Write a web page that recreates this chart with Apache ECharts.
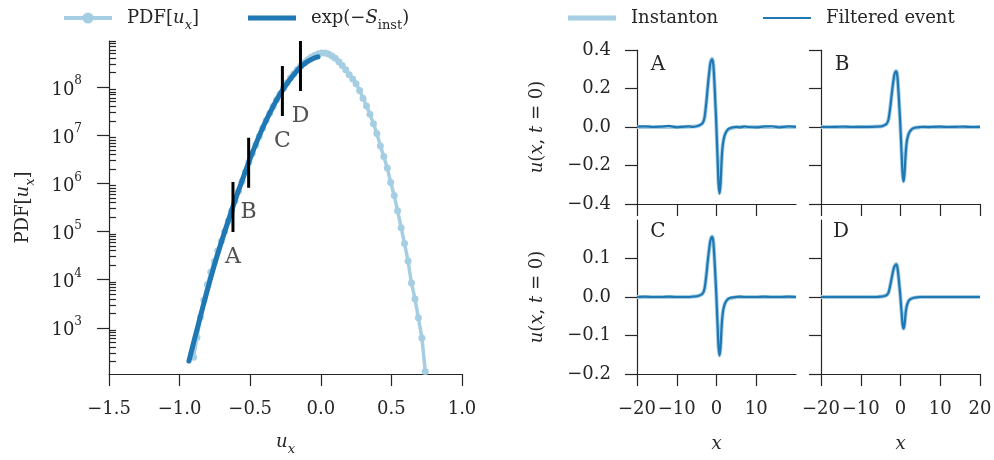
<!DOCTYPE html>
<html><head><meta charset="utf-8">
<script src="https://cdn.jsdelivr.net/npm/echarts@6/dist/echarts.min.js"></script>
<style>html,body{margin:0;padding:0;background:#fff}#c{width:994px;height:460px}</style>
</head><body><div id="c"></div>
<script>
// ---------- Left panel: PDF of u_x (values are log10 of PDF) ----------
const pdfU = [-0.901,-0.877,-0.852,-0.828,-0.803,-0.779,-0.754,-0.730,-0.705,-0.681,-0.656,-0.632,-0.607,-0.583,-0.558,-0.534,-0.509,-0.485,-0.460,-0.436,-0.411,-0.387,-0.362,-0.338,-0.313,-0.289,-0.264,-0.240,-0.215,-0.191,-0.166,-0.142,-0.117,-0.093,-0.068,-0.044,-0.019,0.005,0.030,0.054,0.079,0.103,0.128,0.152,0.177,0.201,0.226,0.250,0.275,0.299,0.324,0.348,0.373,0.397,0.422,0.446,0.471,0.495,0.520,0.544,0.569,0.593,0.618,0.642,0.667,0.691,0.716,0.740];
const pdfLog10 = [2.39,2.80,3.22,3.58,3.90,4.16,4.38,4.60,4.80,5.00,5.22,5.43,5.64,5.84,6.04,6.24,6.44,6.62,6.80,6.98,7.15,7.31,7.46,7.60,7.74,7.86,7.98,8.09,8.19,8.28,8.37,8.44,8.51,8.57,8.62,8.66,8.69,8.71,8.71,8.69,8.65,8.60,8.53,8.45,8.36,8.26,8.17,8.07,7.93,7.77,7.61,7.44,7.24,7.04,6.78,6.56,6.32,6.02,5.75,5.43,5.08,4.75,4.39,3.93,3.60,3.21,2.79,2.09];
const expU = [-0.934,-0.90,-0.85,-0.80,-0.75,-0.70,-0.65,-0.60,-0.55,-0.50,-0.45,-0.40,-0.35,-0.30,-0.25,-0.20,-0.15,-0.10,-0.05,-0.02];
const expLog10 = [2.31,2.70,3.27,3.82,4.34,4.82,5.27,5.71,6.12,6.52,6.89,7.23,7.53,7.80,8.03,8.23,8.40,8.52,8.60,8.63];
const markerU = [-0.622,-0.511,-0.272,-0.144];
const markerLog10 = [5.51,6.43,7.92,8.44];
const markerNames = ['A','B','C','D'];
const yMajorExp = [3,4,5,6,7,8];
const xTicksLeft = [-1.5,-1.0,-0.5,0.0,0.5,1.0];

// ---------- Right panels: u(x, t=0) ----------
const waveX = [-20,-18,-16,-14,-12,-10,-8,-7,-6,-5,-4.3,-3.5,-3,-2.5,-2.2,-1.8,-1.5,-1.1,-0.8,-0.5,-0.3,-0.1,0.1,0.3,0.5,0.75,1.0,1.25,1.5,1.75,2.2,3,4,5,6,7,8,10,12,14,16,18,20];
const instA = [0,0,0,0,0,0,0,0.001,0.002,0.004,0.008,0.02,0.05,0.14,0.21,0.29,0.335,0.355,0.325,0.22,0.13,0.04,-0.07,-0.18,-0.29,-0.345,-0.30,-0.19,-0.11,-0.07,-0.035,-0.012,-0.004,-0.001,0,0,0,0,0,0,0,0,0];
const filtA = [0.002,0.003,0.0,0.002,0.006,-0.002,0.002,0.003,0.001,0.004,0.009,0.02,0.05,0.14,0.21,0.29,0.335,0.352,0.325,0.22,0.13,0.04,-0.07,-0.18,-0.29,-0.345,-0.30,-0.19,-0.11,-0.07,-0.035,-0.010,-0.002,0.001,-0.002,0.003,0.0,-0.002,0.003,0.004,-0.002,0.003,0.001];
const instB = [0,0,0,0,0,0,0,0.001,0.002,0.003,0.007,0.016,0.041,0.115,0.172,0.238,0.275,0.291,0.267,0.18,0.107,0.033,-0.057,-0.148,-0.238,-0.283,-0.246,-0.156,-0.09,-0.057,-0.029,-0.01,-0.003,-0.001,0,0,0,0,0,0,0,0,0];
const filtB = [0.001,0,0.001,0.002,0,0.001,0.001,0.001,0.002,0.003,0.007,0.016,0.041,0.115,0.172,0.238,0.275,0.289,0.267,0.18,0.107,0.033,-0.057,-0.148,-0.238,-0.283,-0.246,-0.156,-0.09,-0.057,-0.029,-0.009,-0.002,0.0,0.001,-0.001,0.001,0.002,0,0.001,0.002,0,0.001];
const instC = [0,0,0,0,0,0,0,0,0.001,0.002,0.004,0.009,0.022,0.062,0.093,0.128,0.148,0.157,0.144,0.097,0.057,0.018,-0.031,-0.08,-0.128,-0.152,-0.133,-0.084,-0.049,-0.031,-0.015,-0.005,-0.002,0,0,0,0,0,0,0,0,0,0];
const filtC = [0,0.001,0,0,0.001,0,0,0,0.001,0.002,0.004,0.009,0.022,0.062,0.093,0.128,0.148,0.156,0.144,0.097,0.057,0.018,-0.031,-0.08,-0.128,-0.152,-0.133,-0.084,-0.049,-0.031,-0.015,-0.004,-0.001,0,0.001,0,0,0,0.001,0,0,0.001,0];
const instD = [0,0,0,0,0,0,0,0,0,0.001,0.002,0.005,0.012,0.034,0.05,0.07,0.08,0.0855,0.078,0.053,0.031,0.01,-0.017,-0.043,-0.07,-0.082,-0.072,-0.046,-0.027,-0.017,-0.008,-0.003,-0.001,0,0,0,0,0,0,0,0,0,0];
const filtD = [0,0,0,0,0,0,0,0,0,0.001,0.002,0.005,0.012,0.034,0.05,0.07,0.08,0.085,0.078,0.053,0.031,0.01,-0.017,-0.043,-0.07,-0.082,-0.072,-0.046,-0.027,-0.017,-0.008,-0.003,-0.001,0,0,0,0,0,0,0,0,0,0];
const panelNames = ['A','B','C','D'];
const xTicksRightA = [-20,-10,0,10];
const xTicksRightB = [-20,-10,0,10,20];
const yTicksTop = [-0.4,-0.2,0.0,0.2,0.4];
const yTicksBottom = [-0.2,-0.1,0.0,0.1];

// ---------- styling ----------
const FONT = 'DejaVu Serif';
const TXT = '#262626';
const LIGHT = '#a6cee3', DARK = '#1f78b4';
const zip = (a, b) => a.map((v, i) => [v, b[i]]);
const fmt = (v, d) => { const s = Math.abs(v).toFixed(d); return (v < 0 && Number(s) !== 0 ? '\u2212' : '') + s; };

const rich = {
  r: {fontFamily: FONT, fontSize: 18, color: TXT, lineHeight: 28, verticalAlign: 'middle'},
  i: {fontFamily: FONT, fontStyle: 'italic', fontSize: 18, color: TXT, lineHeight: 28, verticalAlign: 'middle'},
  sub: {fontFamily: FONT, fontSize: 13, color: TXT, lineHeight: 28, verticalAlign: 'bottom'},
  subi: {fontFamily: FONT, fontStyle: 'italic', fontSize: 13, color: TXT, lineHeight: 28, verticalAlign: 'bottom'},
  g: {width: 10}
};
const tickRich = {
  b: {fontFamily: FONT, fontSize: 18, color: TXT, lineHeight: 24, verticalAlign: 'bottom'},
  s: {fontFamily: FONT, fontSize: 12, color: TXT, lineHeight: 24, verticalAlign: 'top'}
};
const legendText = {
  'PDF[u_x]': '{g| }{r|PDF[}{i|u}{subi|x}{r|]}',
  'exp(-S_inst)': '{g| }{r|exp(\u2212}{i|S}{sub|inst}{r|)}',
  'Instanton': '{g| }{r|Instanton}',
  'Filtered event': '{g| }{r|Filtered event}'
};
const axLine = {show: true, onZero: false, lineStyle: {color: TXT, width: 1.2}};
const tickStyle = {color: TXT, width: 1.2};

function legend(item, left, h, withLine) {
  const l = {data: [item], left: left, top: 9, padding: 0, itemWidth: 48, itemHeight: h,
    selectedMode: false, formatter: n => legendText[n], textStyle: {rich: rich}};
  if (withLine) { l.lineStyle = {width: 4}; }
  return l;
}

const grids = [
  {left: 109, top: 41, width: 353, height: 333},
  {left: 637, top: 50, width: 159, height: 154},
  {left: 821, top: 50, width: 159, height: 154},
  {left: 637, top: 220, width: 159, height: 154},
  {left: 821, top: 220, width: 159, height: 154}
].map(g => Object.assign(g, {containLabel: false, outerBoundsMode: 'none'}));

const minorVals = [];
for (let e = 2; e <= 8; e++) for (let k = 2; k <= 9; k++) minorVals.push(e + Math.log10(k));

const xAxes = [
  {gridIndex: 0, type: 'value', min: -1.5, max: 1.0, interval: 0.5, axisLine: axLine,
   axisTick: {show: true, length: 12, lineStyle: tickStyle},
   axisLabel: {margin: 26, fontFamily: FONT, fontSize: 18, color: TXT, formatter: v => fmt(v, 1)},
   splitLine: {show: false},
   name: '{i|u}{subi|x}', nameLocation: 'middle', nameGap: 54, nameTextStyle: {rich: rich}}
];
const yAxes = [
  {gridIndex: 0, type: 'value', min: 2.04, max: 8.96, axisLine: axLine,
   axisTick: {show: true, length: 12, lineStyle: tickStyle, customValues: yMajorExp},
   axisLabel: {margin: 27, customValues: yMajorExp, formatter: v => '{b|10}{s|' + Math.round(v) + '}', rich: tickRich},
   splitLine: {show: false},
   name: '{r|PDF[}{i|u}{subi|x}{r|]}', nameLocation: 'middle', nameGap: 72, nameRotate: 90, nameTextStyle: {rich: rich}},
  // minor ticks of the log scale; sits on a hidden helper x axis whose zero is the left edge
  {gridIndex: 0, type: 'value', min: 2.04, max: 8.96,
   axisLine: {show: false, onZero: true, onZeroAxisIndex: 5},
   axisTick: {show: true, length: 7, lineStyle: tickStyle, customValues: minorVals},
   axisLabel: {show: false}, splitLine: {show: false}}
];
for (let p = 0; p < 4; p++) {
  const top = p < 2, leftCol = p % 2 === 0;
  const xt = leftCol ? xTicksRightA : xTicksRightB;
  const yt = top ? yTicksTop : yTicksBottom;
  xAxes.push({gridIndex: p + 1, type: 'value', min: -20, max: 20, axisLine: axLine,
    axisTick: {show: true, length: 12, lineStyle: tickStyle, customValues: xt},
    axisLabel: {show: !top, customValues: xt, margin: 26, fontFamily: FONT, fontSize: 18, color: TXT, formatter: v => fmt(v, 0)},
    splitLine: {show: false},
    name: top ? '' : '{i|x}', nameLocation: 'middle', nameGap: 56, nameTextStyle: {rich: rich}});
  yAxes.push({gridIndex: p + 1, type: 'value', min: top ? -0.4 : -0.2, max: top ? 0.4 : 0.2, axisLine: axLine,
    axisTick: {show: true, length: 12, lineStyle: tickStyle, customValues: yt},
    axisLabel: {show: leftCol, customValues: yt, margin: 26, fontFamily: FONT, fontSize: 18, color: TXT, formatter: v => fmt(v, 1)},
    splitLine: {show: false},
    name: leftCol ? '{i|u}{r|(}{i|x}{r|, }{i|t}{r| = 0)}' : '', nameLocation: 'middle', nameGap: 86, nameRotate: 90,
    nameTextStyle: {rich: rich}});
}
// helper x axis (index 5) for the left panel: 0 at the left edge, not drawn
xAxes.push({gridIndex: 0, type: 'value', min: 0, max: 1, show: false});

const series = [
  {name: 'PDF[u_x]', type: 'line', xAxisIndex: 0, yAxisIndex: 0, data: zip(pdfU, pdfLog10),
   symbol: 'circle', symbolSize: 7, showSymbol: true, clip: false, z: 2,
   lineStyle: {color: LIGHT, width: 3.5}, itemStyle: {color: LIGHT}},
  {name: 'exp(-S_inst)', type: 'line', xAxisIndex: 0, yAxisIndex: 0, data: zip(expU, expLog10),
   symbol: 'none', smooth: 0.3, clip: false, z: 3,
   lineStyle: {color: DARK, width: 5, cap: 'round'}, itemStyle: {color: DARK}}
];
markerU.forEach((u, i) => {
  series.push({type: 'line', xAxisIndex: 0, yAxisIndex: 0, symbol: 'none', z: 4, silent: true,
    data: [[u, markerLog10[i] - 0.52], [u, markerLog10[i] + 0.52]],
    lineStyle: {color: '#000', width: 3}});
  series.push({type: 'scatter', xAxisIndex: 0, yAxisIndex: 0, symbolSize: 0, z: 4, silent: true,
    data: [[u, markerLog10[i] - 0.52]],
    label: {show: true, position: 'bottom', distance: 14, formatter: markerNames[i],
      fontFamily: FONT, fontSize: 22, color: TXT}});
});
const inst = [instA, instB, instC, instD], filt = [filtA, filtB, filtC, filtD];
for (let p = 0; p < 4; p++) {
  series.push({name: 'Instanton', type: 'line', xAxisIndex: p + 1, yAxisIndex: p + 2,
    data: zip(waveX, inst[p]), symbol: 'none', smooth: 0.25, z: 2,
    lineStyle: {color: LIGHT, width: 4}, itemStyle: {color: LIGHT}});
  series.push({name: 'Filtered event', type: 'line', xAxisIndex: p + 1, yAxisIndex: p + 2,
    data: zip(waveX, filt[p]), symbol: 'none', smooth: 0.25, z: 3,
    lineStyle: {color: DARK, width: 2.2}, itemStyle: {color: DARK}});
}

const letterPos = [[658, 65], [842, 65], [658, 232], [841, 232]];
const graphic = panelNames.map((t, i) => ({type: 'text', x: letterPos[i][0], y: letterPos[i][1], silent: true,
  style: {text: t, align: 'center', verticalAlign: 'middle', font: '20px "DejaVu Serif"', fill: TXT}}));

const chart = echarts.init(document.getElementById('c'), null, {renderer: 'canvas'});
chart.setOption({
  animation: false,
  backgroundColor: '#fff',
  textStyle: {fontFamily: FONT, color: TXT},
  legend: [
    legend('PDF[u_x]', 62, 14, true),
    legend({name: 'exp(-S_inst)', icon: 'rect', itemStyle: {color: DARK}}, 248, 5, false),
    legend({name: 'Instanton', icon: 'rect', itemStyle: {color: LIGHT}}, 568, 5, false),
    legend({name: 'Filtered event', icon: 'rect', itemStyle: {color: DARK}}, 763, 2, false)
  ],
  grid: grids, xAxis: xAxes, yAxis: yAxes, series: series, graphic: graphic
});
</script></body></html>
